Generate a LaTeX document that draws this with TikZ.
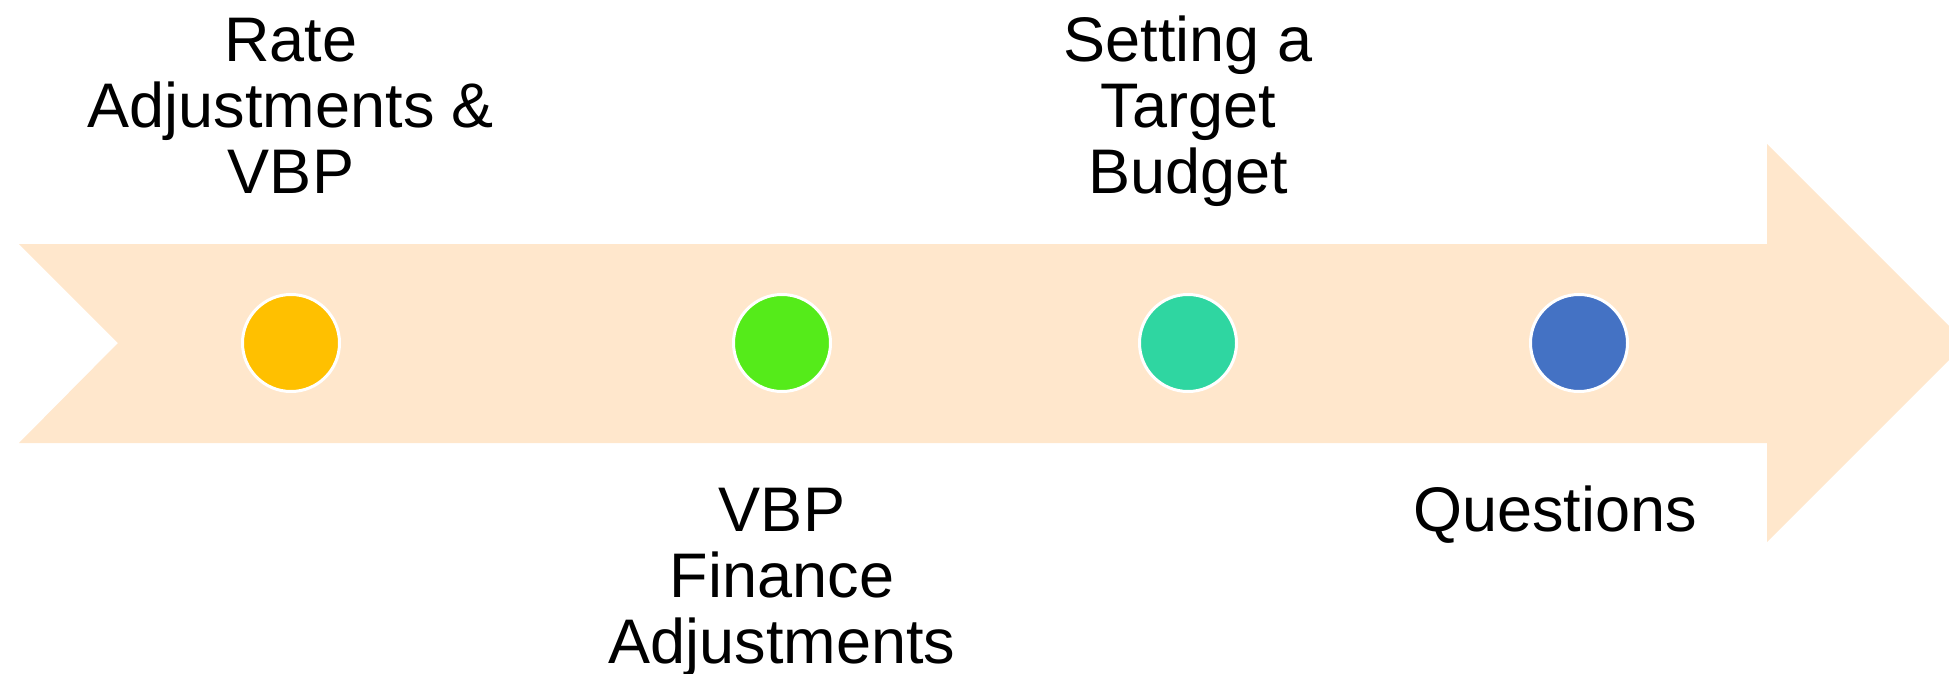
\documentclass[tikz,border=0pt]{standalone}
\usepackage{fontspec}
\setmainfont{Liberation Sans}
\definecolor{arrowfill}{HTML}{FFE7CC}
\definecolor{cyellow}{HTML}{FFC000}
\definecolor{cgreen}{HTML}{55EB1A}
\definecolor{cteal}{HTML}{2FD6A1}
\definecolor{cblue}{HTML}{4472C4}
\tikzset{
  dot/.style={circle, draw=white, line width=1.5pt, minimum size=48.5pt, inner sep=0pt},
  lbl/.style={align=center, inner sep=0pt, anchor=base, font=\fontsize{31.5pt}{32.8pt}\selectfont},
}
\begin{document}
\begin{tikzpicture}[x=0.5pt, y=-0.5pt]
\useasboundingbox (0,0) rectangle (1949,674);
\begin{scope}
\clip (0,0) rectangle (1949,674);
\fill[arrowfill] (19,244) -- (1767,244) -- (1767,144) -- (1966,343) -- (1767,542) -- (1767,443) -- (19,443) -- (118,343) -- cycle;
\end{scope}
\node[dot, fill=cyellow] (c1) at (291,343) {};
\node[dot, fill=cgreen] (c2) at (782,343) {};
\node[dot, fill=cteal] (c3) at (1188,343) {};
\node[dot, fill=cblue] (c4) at (1579,343) {};
\node[lbl] (t1) at (291,193) {Rate\\Adjustments \&\\VBP};
\node[lbl] (t3) at (1188,193) {Setting a\\Target\\Budget};
\node[lbl] (t2) at (782,663) {VBP\\Finance\\Adjustments};
\node[lbl] (t4) at (1555,531) {Questions};
\end{tikzpicture}
\end{document}
